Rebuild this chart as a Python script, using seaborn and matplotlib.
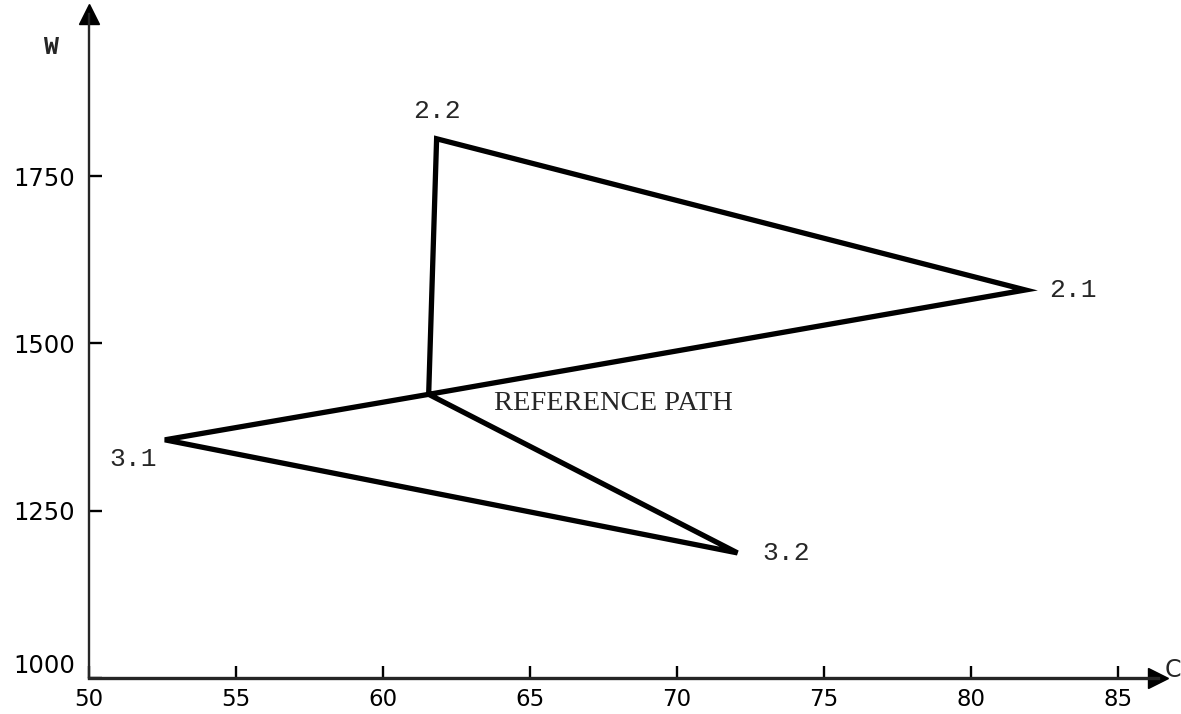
import matplotlib
matplotlib.use("Agg")
import matplotlib.pyplot as plt
import seaborn as sns
import pandas as pd

# ---- data ----
point_names = ["REF", "2.2", "2.1", "REF", "3.1", "3.2", "REF"]
c_values = [61.55, 61.82, 81.84, 61.55, 52.58, 72.05, 61.55]
w_values = [1424, 1806, 1580, 1424, 1356, 1187, 1424]
x_ticks = [50, 55, 60, 65, 70, 75, 80, 85]
y_ticks = [1000, 1250, 1500, 1750]
x_tick_labels = ["50", "55", "60", "65", "70", "75", "80", "85"]
y_tick_labels = ["1000", "1250", "1500", "1750"]

df = pd.DataFrame({"C": c_values, "W": w_values, "step": range(len(c_values))})

sns.set_style("ticks")
plt.rcParams["font.family"] = ["DejaVu Sans"]

fig = plt.figure(figsize=(11.81, 7.14), dpi=100)
ax = fig.add_axes([89 / 1181, 36 / 714, (1158 - 89) / 1181, (678 - 14) / 714])

sns.lineplot(data=df, x="C", y="W", sort=False, estimator=None, color="black",
             linewidth=3.8, ax=ax)
for line in ax.get_lines():
    line.set_solid_joinstyle("miter")
    line.set_solid_capstyle("butt")

ax.set_xlim(50, 86.35)
ax.set_ylim(1000, 1992.5)
ax.set_xticks(x_ticks)
ax.set_xticklabels(x_tick_labels)
ax.set_yticks(y_ticks)
ax.set_yticklabels(y_tick_labels)
ax.set_xlabel("")
ax.set_ylabel("")

for s in ["top", "right"]:
    ax.spines[s].set_visible(False)
ax.spines["left"].set_linewidth(1.7)
ax.spines["bottom"].set_linewidth(2.4)
ax.tick_params(axis="both", direction="in", length=9, width=1.7,
               color="black", labelcolor="black")
ax.tick_params(axis="x", pad=7, labelsize=16.5)
ax.tick_params(axis="y", pad=10, labelsize=17.5)
ax.get_yticklabels()[0].set_va("bottom")

# axis arrow heads
ax.plot([1], [0], marker=">", markersize=14, color="black", transform=ax.transAxes,
        clip_on=False)
ax.plot([0], [1], marker="^", markersize=15, color="black", transform=ax.transAxes,
        clip_on=False)

ax.annotate("C", xy=(1, 0), xycoords="axes fraction", xytext=(5, 6),
            textcoords="offset points", ha="left", va="center", fontsize=17)
ax.annotate("W", xy=(0, 1), xycoords="axes fraction", xytext=(-28, -24),
            textcoords="offset points", ha="center", va="center", fontsize=18,
            family="Liberation Mono", fontweight="bold")

label_offsets = {"2.2": (0, 20), "2.1": (34, 0), "3.2": (35, 0), "3.1": (-23, -14)}
for name, c, w in zip(point_names, c_values, w_values):
    if name in label_offsets:
        ax.annotate(name, xy=(c, w), xytext=label_offsets[name], textcoords="offset points",
                    ha="center", va="center", fontsize=19, family="Liberation Mono")
ref_idx = point_names.index("REF")
ax.annotate("REFERENCE PATH", xy=(c_values[ref_idx], w_values[ref_idx]), xytext=(47, -6.5),
            textcoords="offset points", ha="left", va="center", fontsize=20.5,
            family="Liberation Serif")

fig.savefig("out.png", dpi=100, facecolor="white")
